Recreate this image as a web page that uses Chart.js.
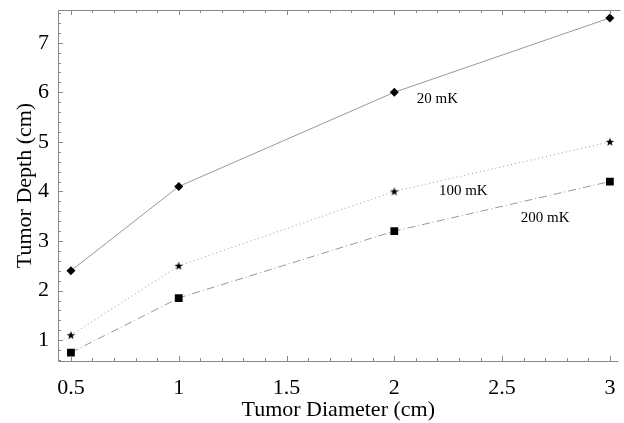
<!DOCTYPE html>
<html>
<head>
<meta charset="utf-8">
<script src="https://cdn.jsdelivr.net/npm/chart.js@4"></script>
<style>
  html, body { margin: 0; padding: 0; background: #fff; }
  #wrap { width: 624px; height: 423px; }
</style>
</head>
<body>
<div id="wrap"><canvas id="chart"></canvas></div>
<script>
var diameters = [0.5, 1, 2, 3];
var depth20 = [2.4, 4.1, 6.0, 7.5];
var depth100 = [1.1, 2.5, 4.0, 5.0];
var depth200 = [0.75, 1.85, 3.2, 4.2];
var seriesNames = ["20 mK", "100 mK", "200 mK"];
var xTicks = [0.5, 1, 1.5, 2, 2.5, 3];
var yTicks = [1, 2, 3, 4, 5, 6, 7];

function pts(ys) {
  return diameters.map(function(x, i) { return { x: x, y: ys[i] }; });
}

Chart.defaults.font.family = 'Liberation Serif';
Chart.defaults.font.size = 22;
Chart.defaults.color = '#000';

// small five point star for the 100 mK marker
var star = document.createElement('canvas');
star.width = 10; star.height = 10;
(function() {
  var c = star.getContext('2d');
  c.fillStyle = '#000';
  c.beginPath();
  for (var i = 0; i < 10; i++) {
    var r = i % 2 ? 1.8 : 4.5;
    var a = -Math.PI / 2 + i * Math.PI / 5;
    c.lineTo(5 + r * Math.cos(a), 5.3 + r * Math.sin(a));
  }
  c.closePath();
  c.fill();
})();

// frame with inward ticks, plus curve labels
var framePlugin = {
  id: 'frame',
  afterDraw: function(chart) {
    var ctx = chart.ctx, a = chart.chartArea;
    var xs = chart.scales.x, ys = chart.scales.y;
    ctx.save();
    ctx.strokeStyle = '#888';
    ctx.lineWidth = 1;
    ctx.beginPath();
    ctx.moveTo(a.left + 0.5, a.top + 0.5);
    ctx.lineTo(a.left + 0.5, a.bottom + 0.5);
    ctx.lineTo(a.right, a.bottom + 0.5);
    ctx.moveTo(a.left + 0.5, a.top + 0.5);
    ctx.lineTo(a.right + 2, a.top + 0.5);
    for (var v = 0.5; v <= 3.001; v += 0.1) {
      var px = Math.round(xs.getPixelForValue(v)) + 0.5;
      var major = Math.abs(v * 2 - Math.round(v * 2)) < 1e-6;
      var len = major ? 5 : 3;
      ctx.moveTo(px, a.bottom); ctx.lineTo(px, a.bottom - len);
      ctx.moveTo(px, a.top); ctx.lineTo(px, a.top + len);
    }
    for (var w = 0.6; w <= 7.601; w += 0.2) {
      var py = Math.round(ys.getPixelForValue(w)) + 0.5;
      var maj = Math.abs(w - Math.round(w)) < 1e-6;
      ctx.moveTo(a.left, py); ctx.lineTo(a.left + (maj ? 5 : 3), py);
    }
    ctx.stroke();

    ctx.fillStyle = '#000';
    ctx.font = '15px "Liberation Serif"';
    ctx.textAlign = 'center';
    ctx.textBaseline = 'middle';
    var spots = [[2.2, 5.87], [2.32, 4.0], [2.7, 3.46]];
    seriesNames.forEach(function(n, i) {
      ctx.fillText(n, xs.getPixelForValue(spots[i][0]), ys.getPixelForValue(spots[i][1]));
    });
    ctx.restore();
  }
};

new Chart(document.getElementById('chart'), {
  type: 'scatter',
  data: {
    datasets: [
      {
        label: seriesNames[0], data: pts(depth20), showLine: true,
        borderColor: '#999', borderWidth: 1,
        pointStyle: 'rectRot', pointRadius: 4.5, pointBackgroundColor: '#000', pointBorderColor: '#000', pointBorderWidth: 0
      },
      {
        label: seriesNames[1], data: pts(depth100), showLine: true,
        borderColor: '#999', borderWidth: 1, borderDash: [1, 3],
        pointStyle: star, pointBackgroundColor: '#000', pointBorderColor: '#000'
      },
      {
        label: seriesNames[2], data: pts(depth200), showLine: true,
        borderColor: '#999', borderWidth: 1, borderDash: [8, 3, 1, 3],
        pointStyle: 'rect', pointRadius: 5.5, pointBackgroundColor: '#000', pointBorderColor: '#000', pointBorderWidth: 0
      }
    ]
  },
  options: {
    responsive: true,
    maintainAspectRatio: false,
    animation: false,
    layout: { padding: { top: 10, right: 2, left: 0, bottom: 0 } },
    plugins: { legend: { display: false }, tooltip: { enabled: false } },
    scales: {
      x: {
        type: 'linear', min: 0.44, max: 3.04,
        afterBuildTicks: function(s) { s.ticks = xTicks.map(function(v) { return { value: v }; }); },
        afterFit: function(s) { s.height = 62; s.paddingLeft = 0; s.paddingRight = 0; },
        grid: { display: false }, border: { display: false },
        ticks: { padding: 6, maxRotation: 0, callback: function(v) { return String(v); } },
        title: { display: true, text: 'Tumor Diameter (cm)', padding: { top: 0, bottom: 0 } }
      },
      y: {
        type: 'linear', min: 0.58, max: 7.66,
        afterBuildTicks: function(s) { s.ticks = yTicks.map(function(v) { return { value: v }; }); },
        afterFit: function(s) { s.width = 58; s.paddingTop = 0; s.paddingBottom = 0; },
        grid: { display: false, drawTicks: false, tickLength: 0 }, border: { display: false },
        ticks: { padding: 9, callback: function(v) { return String(v); } },
        title: { display: true, text: 'Tumor Depth (cm)', padding: { top: 12, bottom: 0 } }
      }
    }
  },
  plugins: [framePlugin]
});
</script>
</body>
</html>
